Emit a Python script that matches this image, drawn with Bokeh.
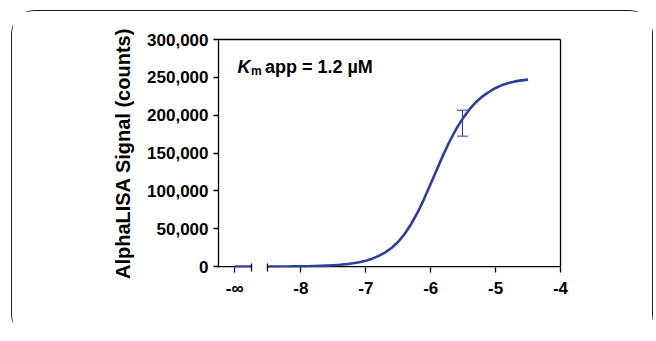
from bokeh.plotting import figure
from bokeh.models import (Range1d, FixedTicker, NumeralTickFormatter, LinearAxis,
                          Label, Whisker, ColumnDataSource, TeeHead)
from bokeh.embed import file_html
from bokeh.resources import INLINE

# ---- data ----
curve_x = [-8.5, -8.4, -8.3, -8.2, -8.1, -8.0, -7.9, -7.8, -7.7, -7.6, -7.5,
           -7.4, -7.3, -7.2, -7.1, -7.0, -6.9, -6.8, -6.7, -6.6, -6.5,
           -6.4, -6.3, -6.2, -6.1, -6.0, -5.9, -5.8, -5.7, -5.6, -5.5,
           -5.4, -5.3, -5.2, -5.1, -5.0, -4.9, -4.8, -4.7, -4.6, -4.5]
curve_y = [180, 220, 270, 340, 430, 550, 700, 900, 1150, 1500, 2000,
           2600, 3400, 4500, 6000, 8000, 10700, 14300, 19000, 25000, 33000,
           43500, 56500, 72000, 90000, 109500, 129500, 149000, 167000, 183000, 196500,
           208000, 217500, 225000, 231000, 236000, 239800, 242600, 244700, 246000, 247000]
ninf_x = [-9.02, -8.765]
ninf_y = [300, 300]
err_x = [-5.51]
err_low = [172400]
err_high = [206600]
x_ticks = [-9.02, -8, -7, -6, -5, -4]
x_tick_labels = ["-\u221e", "-8", "-7", "-6", "-5", "-4"]
break_x = [-8.765, -8.51]
y_ticks = [0, 50000, 100000, 150000, 200000, 250000, 300000]

X_START, X_END = -9.27, -4.0
Y_START, Y_END = -1000, 300000

BLUE = "#2D3E9C"
FONT = "Liberation Sans"

p = figure(width=642, height=328, x_range=Range1d(X_START, X_END),
           y_range=Range1d(Y_START, Y_END), output_backend="svg",
           toolbar_location=None, min_border_left=206, min_border_right=94,
           min_border_top=28, min_border_bottom=72)
p.styles = {"border": "1px solid #1e1e1e", "border-bottom": "none",
            "border-radius": "24px", "margin-left": "11px", "margin-top": "10px"}
p.grid.visible = False
p.outline_line_color = None
p.background_fill_color = "white"
p.border_fill_color = "white"

# x axis
xa = p.xaxis[0]
xa.ticker = FixedTicker(ticks=x_ticks, minor_ticks=break_x)
xa.major_label_overrides = dict(zip(x_ticks, x_tick_labels))
xa.axis_line_color = None
xa.major_tick_out = 5
xa.major_tick_in = 0
xa.minor_tick_in = 4
xa.minor_tick_out = 4
xa.major_tick_line_width = 1.3
xa.minor_tick_line_width = 1.3
xa.major_tick_line_color = "black"
xa.minor_tick_line_color = "black"
xa.major_label_text_font = FONT
xa.major_label_text_font_style = "bold"
xa.major_label_text_font_size = "17px"
xa.major_label_text_color = "black"
xa.major_label_standoff = 6

# y axis
ya = p.yaxis[0]
ya.ticker = FixedTicker(ticks=y_ticks)
ya.formatter = NumeralTickFormatter(format="0,0")
ya.axis_line_width = 1.3
ya.axis_line_color = "black"
ya.major_tick_out = 5
ya.major_tick_in = 0
ya.minor_tick_out = 0
ya.minor_tick_in = 0
ya.major_tick_line_width = 1.3
ya.major_tick_line_color = "black"
ya.major_label_text_font = FONT
ya.major_label_text_font_style = "bold"
ya.major_label_text_font_size = "17px"
ya.major_label_text_color = "black"
ya.major_label_standoff = 5
ya.axis_label = "AlphaLISA Signal (counts)"
ya.axis_label_text_font = FONT
ya.axis_label_text_font_style = "bold"
ya.axis_label_text_font_size = "20px"
ya.axis_label_text_color = "black"
ya.axis_label_standoff = 10

# top and right frame lines as empty axes
for side in ("above", "right"):
    ax = LinearAxis(ticker=FixedTicker(ticks=[]), axis_line_width=1.3,
                    axis_line_color="black", major_tick_out=0, major_tick_in=0,
                    minor_tick_out=0, minor_tick_in=0,
                    major_label_text_font_size="0px")
    p.add_layout(ax, side)

# broken x-axis line
p.segment(x0=[X_START, break_x[1]], y0=[0, 0], x1=[break_x[0], X_END], y1=[0, 0],
          line_color="black", line_width=1.3)

# data
p.line(ninf_x, ninf_y, line_color=BLUE, line_width=2.6)
p.line(curve_x, curve_y, line_color=BLUE, line_width=2.6, line_join="round")

src = ColumnDataSource(dict(base=err_x, lower=err_low, upper=err_high))
p.add_layout(Whisker(base="base", lower="lower", upper="upper", source=src,
                     line_color=BLUE, line_width=1,
                     upper_head=TeeHead(size=11, line_color=BLUE, line_width=1),
                     lower_head=TeeHead(size=11, line_color=BLUE, line_width=1)))

# annotation  K_m app = 1.2 µM
p.add_layout(Label(x=-8.978, y=263700, text="K", text_font=FONT,
                   text_font_style="bold italic", text_font_size="18px",
                   text_baseline="alphabetic", text_color="black"))
p.add_layout(Label(x=-8.770, y=258400, text="m", text_font=FONT,
                   text_font_style="bold", text_font_size="12px",
                   text_baseline="alphabetic", text_color="black"))
p.add_layout(Label(x=-8.555, y=263700, text="app = 1.2 \u00b5M", text_font=FONT,
                   text_font_style="bold", text_font_size="18px",
                   text_baseline="alphabetic", text_color="black"))

# x-axis title
p.add_layout(Label(x=-6.355, y=-47, y_units="screen", text="Log [2OG] (M)",
                   text_font=FONT, text_font_style="bold", text_font_size="20px",
                   text_align="center", text_baseline="middle", text_color="black"))

open("out.html", "w").write(file_html(p, INLINE))
